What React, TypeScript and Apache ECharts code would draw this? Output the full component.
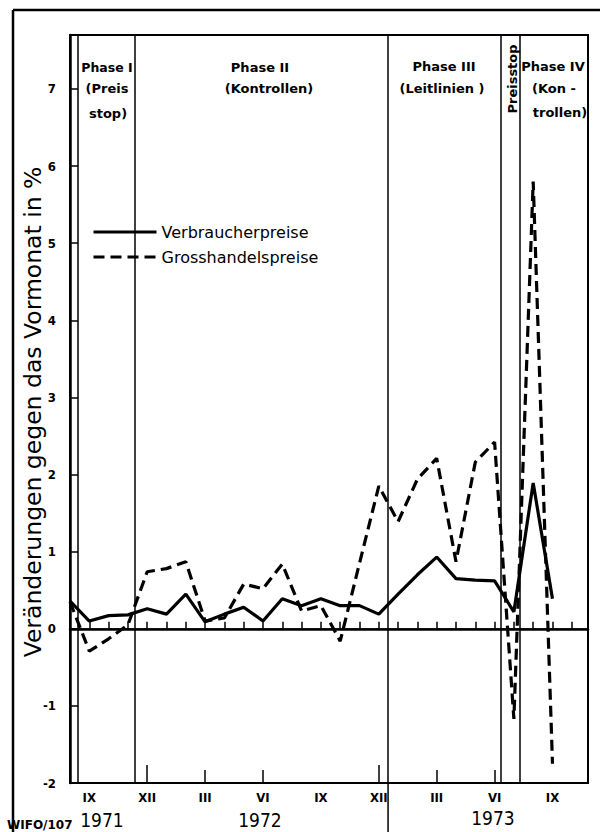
import { useEffect, useRef } from 'react';
import * as echarts from 'echarts';

// Months from VIII 1971 (index 0) to IX 1973 (index 25)
const monthLabels = ['VIII', 'IX', 'X', 'XI', 'XII', 'I', 'II', 'III', 'IV', 'V', 'VI', 'VII', 'VIII', 'IX', 'X', 'XI', 'XII', 'I', 'II', 'III', 'IV', 'V', 'VI', 'VII', 'VIII', 'IX'];
const labeledMonths = [1, 4, 7, 10, 13, 16, 19, 22, 25];
const midTickMonths = [7, 10, 19, 22];
const longTickMonths = [4, 16];

const verbraucherpreise = [0.36, 0.10, 0.17, 0.18, 0.26, 0.19, 0.45, 0.09, 0.19, 0.28, 0.10, 0.39, 0.30, 0.39, 0.30, 0.30, 0.19, 0.45, 0.70, 0.93, 0.65, 0.63, 0.62, 0.22, 1.89, 0.39];
const grosshandelspreise = [0.35, -0.29, -0.13, 0.05, 0.74, 0.78, 0.87, 0.10, 0.14, 0.58, 0.52, 0.84, 0.23, 0.30, -0.16, 0.85, 1.85, 1.39, 1.94, 2.21, 0.87, 2.16, 2.42, -1.17, 5.80, -1.75];

// Phase boundaries (in month index units)
const phaseBoundaries = [0.41, 3.37, 16.48, 22.33, 23.32];
const yearBoundary = 16.48;

const yMin = -2;
const yMax = 7.7;
const xMax = 26.84;

const seriesNames = ['Verbraucherpreise', 'Grosshandelspreise'];
const yTitle = 'Veränderungen gegen das Vormonat in %';
const years = ['1971', '1972', '1973'];

export default function App() {
  const ref = useRef<HTMLDivElement>(null);
  useEffect(() => {
    const chart = echarts.init(ref.current!, null, { renderer: 'svg' });
    const black = '#000';
    const tickFont = { fontFamily: 'DejaVu Sans Condensed, DejaVu Sans, sans-serif', fontWeight: 'bold' as const, fontSize: 13, color: black };
    const baseX = {
      type: 'value' as const,
      min: 0,
      max: xMax,
      interval: 1,
      splitLine: { show: false },
    };
    chart.setOption({
      animation: false,
      backgroundColor: '#fff',
      grid: { left: 70, right: 14, top: 35, bottom: 49, show: true, borderColor: black, borderWidth: 2 },
      legend: {
        orient: 'vertical',
        left: 92,
        top: 224,
        padding: 0,
        itemWidth: 63,
        itemHeight: 14,
        itemGap: 9,
        itemStyle: { opacity: 0 },
        lineStyle: { width: 3 },
        textStyle: { fontSize: 16, fontFamily: 'DejaVu Sans, sans-serif', color: black },
        data: seriesNames,
      },
      xAxis: [
        {
          ...baseX,
          position: 'bottom',
          axisLine: { show: true, lineStyle: { color: black, width: 2.5 } },
          axisTick: { show: true, inside: true, length: 7, lineStyle: { color: black, width: 1.5 } },
          axisLabel: {
            ...tickFont,
            margin: 8,
            customValues: labeledMonths,
            formatter: (v: number) => {
              const i = Math.round(v);
              return labeledMonths.includes(i) && Math.abs(v - i) < 1e-6 ? monthLabels[i] : '';
            },
          },
        },
        {
          ...baseX,
          position: 'bottom',
          axisLine: { show: false },
          axisTick: { show: true, inside: true, length: 13, customValues: midTickMonths, lineStyle: { color: black, width: 1.5 } },
          axisLabel: { show: false },
        },
        {
          ...baseX,
          position: 'bottom',
          axisLine: { show: false },
          axisTick: { show: true, inside: true, length: 18, customValues: longTickMonths, lineStyle: { color: black, width: 1.5 } },
          axisLabel: { show: false },
        },
      ],
      yAxis: {
        type: 'value',
        min: yMin,
        max: yMax,
        interval: 1,
        splitLine: { show: false },
        axisLine: { show: true, lineStyle: { color: black, width: 2.5 } },
        axisTick: { show: true, inside: true, length: 8, lineStyle: { color: black, width: 1.5 } },
        axisLabel: {
          ...tickFont,
          margin: 14,
          formatter: (v: number) => (Number.isInteger(v) ? String(v) : ''),
        },
      },
      series: [
        {
          name: seriesNames[0],
          type: 'line',
          data: verbraucherpreise.map((v, i) => [i, v]),
          symbol: 'none',
          lineStyle: { color: black, width: 3.2, type: 'solid' },
          itemStyle: { color: black },
          markLine: {
            silent: true,
            symbol: ['none', 'none'],
            label: { show: false },
            lineStyle: { color: black, type: 'solid', width: 1.5 },
            data: [...phaseBoundaries.map((x) => ({ xAxis: x })), { yAxis: 0 }],
          },
        },
        {
          name: seriesNames[1],
          type: 'line',
          data: grosshandelspreise.map((v, i) => [i, v]),
          symbol: 'none',
          lineStyle: { color: black, width: 3.2, type: [11, 6] },
          itemStyle: { color: black },
        },
      ],
    });

    const bx = chart.convertToPixel({ xAxisIndex: 0 }, yearBoundary) as number;
    const by = chart.convertToPixel({ yAxisIndex: 0 }, yMin) as number;
    const phaseFont = { fontFamily: 'DejaVu Sans, sans-serif', fontWeight: 'bold', fontSize: 13, fill: black, textAlign: 'center', textVerticalAlign: 'middle' };
    const t = (text: string, x: number, y: number, extra: any = {}) => ({
      type: 'text', x, y, style: { ...phaseFont, text, ...extra },
    });
    const yearFont = { fontFamily: 'Liberation Sans Narrow, DejaVu Sans Condensed, sans-serif', fontSize: 19, fontWeight: 'normal' };

    chart.setOption({
      graphic: {
        elements: [
          { type: 'line', shape: { x1: 13, y1: 10, x2: 13, y2: 832 }, style: { stroke: black, lineWidth: 2.5 } },
          { type: 'line', shape: { x1: 13, y1: 10, x2: 600, y2: 10 }, style: { stroke: black, lineWidth: 2.5 } },
          { type: 'line', shape: { x1: bx, y1: by, x2: bx, y2: 832 }, style: { stroke: black, lineWidth: 1.5 } },
          t('Phase I', 107, 67, { fontSize: 12.5 }),
          t('(Preis', 107, 88),
          t('stop)', 108, 113),
          t('Phase II', 260, 67),
          t('(Kontrollen)', 269, 88),
          t('Phase III', 444, 66),
          t('(Leitlinien )', 442, 88),
          { type: 'text', x: 512, y: 79, rotation: Math.PI / 2, style: { ...phaseFont, text: 'Preisstop' } },
          t('Phase IV', 553, 66),
          t('(Kon -', 554, 88),
          t('trollen)', 560, 112),
          { type: 'text', x: 33, y: 412, rotation: Math.PI / 2, style: { text: yTitle, fontFamily: 'DejaVu Sans, sans-serif', fontSize: 23.5, fill: black, textAlign: 'center', textVerticalAlign: 'middle' } },
          t(years[0], 102, 820, yearFont),
          t(years[1], 260, 820, yearFont),
          t(years[2], 493, 818, yearFont),
          t('WIFO/107', 7, 825, { textAlign: 'left', fontSize: 12 }),
        ],
      },
    });

    return () => chart.dispose();
  }, []);
  return <div ref={ref} style={{ width: 602, height: 832, position: 'absolute', left: 0, top: 0 }} />;
}
